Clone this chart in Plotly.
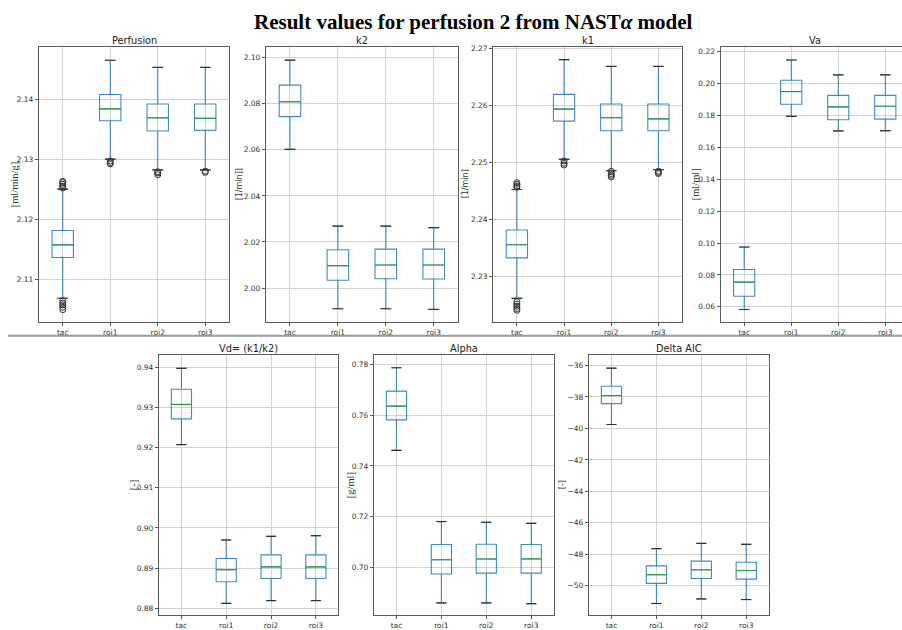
import plotly.graph_objects as go

# Category labels shared by every panel
categories = ["tac", "roi1", "roi2", "roi3"]
positions = [1, 2, 3, 4]

# Five-number summaries per category: [lower whisker, Q1, median, Q3, upper whisker]
perfusion = [
    [2.1068, 2.1136, 2.1157, 2.1181, 2.1250],
    [2.1300, 2.1364, 2.1384, 2.1408, 2.1465],
    [2.1282, 2.1347, 2.1369, 2.1392, 2.1453],
    [2.1282, 2.1348, 2.1368, 2.1392, 2.1453],
]
perfusion_outliers = [
    [2.1252, 2.1255, 2.1258, 2.1261, 2.1263, 2.1049, 2.1053, 2.1057, 2.1060, 2.1064],
    [2.1297, 2.1294, 2.1292],
    [2.1279, 2.1277, 2.1274],
    [2.1280, 2.1278],
]

k2 = [
    [2.0602, 2.0744, 2.0809, 2.0881, 2.0989],
    [1.9910, 2.0034, 2.0097, 2.0166, 2.0269],
    [1.9910, 2.0040, 2.0100, 2.0169, 2.0269],
    [1.9907, 2.0039, 2.0100, 2.0169, 2.0262],
]
k2_outliers = [[], [], [], []]

k1 = [
    [2.2262, 2.2333, 2.2356, 2.2382, 2.2453],
    [2.2506, 2.2573, 2.2594, 2.2620, 2.2681],
    [2.2486, 2.2556, 2.2579, 2.2603, 2.2669],
    [2.2488, 2.2556, 2.2577, 2.2603, 2.2669],
]
k1_outliers = [
    [2.2465, 2.2462, 2.2459, 2.2457, 2.2256, 2.2252, 2.2248, 2.2244, 2.2241],
    [2.2503, 2.2499, 2.2496],
    [2.2485, 2.2481, 2.2478, 2.2475],
    [2.2485, 2.2483, 2.2481],
]

va = [
    [0.0583, 0.0666, 0.0755, 0.0834, 0.0975],
    [0.1795, 0.1870, 0.1950, 0.2021, 0.2148],
    [0.1703, 0.1773, 0.1854, 0.1926, 0.2055],
    [0.1705, 0.1777, 0.1858, 0.1926, 0.2055],
]
va_outliers = [[], [], [], []]

vd = [
    [0.9208, 0.9272, 0.9308, 0.9346, 0.9398],
    [0.8812, 0.8866, 0.8896, 0.8924, 0.8970],
    [0.8819, 0.8874, 0.8903, 0.8933, 0.8979],
    [0.8819, 0.8874, 0.8903, 0.8933, 0.8981],
]
vd_outliers = [[], [], [], []]

alpha = [
    [0.7461, 0.7581, 0.7635, 0.7694, 0.7786],
    [0.6861, 0.6975, 0.7031, 0.7091, 0.7181],
    [0.6861, 0.6978, 0.7034, 0.7092, 0.7178],
    [0.6858, 0.6978, 0.7034, 0.7091, 0.7174],
]
alpha_outliers = [[], [], [], []]

delta_aic = [
    [-39.75, -38.42, -37.91, -37.32, -36.17],
    [-51.13, -49.85, -49.30, -48.74, -47.64],
    [-50.84, -49.54, -48.99, -48.44, -47.31],
    [-50.88, -49.58, -49.03, -48.51, -47.37],
]
delta_aic_outliers = [[], [], [], []]

W, H = 902, 630
SERIF = "Liberation Serif, Times New Roman, serif"
SANS = "DejaVu Sans, sans-serif"
BOX_BLUE = "rgba(31,119,180,0.85)"
MEDIAN_GREEN = "rgba(44,160,44,0.85)"
BOX_WIDTH = 0.45
TICK_FONT = dict(family=SANS, size=7.5, color="#333333")

# Panel layout: pixel frame (left, right, top, bottom), axis settings and labels
panels = [
    dict(title="Perfusion", ylabel="[ml/min/g]", lfont=SERIF, lx=14, stats=perfusion,
         outl=perfusion_outliers, frame=(39, 229, 44.5, 321.7), yr=[2.1029, 2.1487], dt=0.01, fmt=".2f"),
    dict(title="k2", ylabel="[1/min]]", lfont=SANS, lx=239, stats=k2,
         outl=k2_outliers, frame=(266, 457.7, 44.5, 321.7), yr=[1.9854, 2.1046], dt=0.02, fmt=".2f"),
    dict(title="k1", ylabel="[1/min]", lfont=SANS, lx=465, stats=k1,
         outl=k1_outliers, frame=(493.3, 682, 44.5, 321.7), yr=[2.2221, 2.2703], dt=0.01, fmt=".2f"),
    dict(title="Va", ylabel="[ml/ml]", lfont=SERIF, lx=695, stats=va,
         outl=va_outliers, frame=(720.7, 908.8, 44.5, 321.7), yr=[0.0507, 0.2229], dt=0.02, fmt=".2f"),
    dict(title="Vd= (k1/k2)", ylabel="[-]", lfont=SERIF, lx=133, stats=vd,
         outl=vd_outliers, frame=(159, 338.3, 355.7, 618), yr=[0.87827, 0.94305], dt=0.01, fmt=".2f"),
    dict(title="Alpha", ylabel="[g/ml]", lfont=SERIF, lx=350, stats=alpha,
         outl=alpha_outliers, frame=(374, 553.7, 355.7, 618), yr=[0.6813, 0.7835], dt=0.02, fmt=".2f"),
    dict(title="Delta AIC", ylabel="[-]", lfont=SANS, lx=562, stats=delta_aic,
         outl=delta_aic_outliers, frame=(589, 768.7, 355.7, 618), yr=[-51.87, -35.35], dt=2, fmt="d"),
]

fig = go.Figure()
layout = {}
annotations = []

for i, p in enumerate(panels, start=1):
    sfx = "" if i == 1 else str(i)
    xa, ya = "x" + sfx, "y" + sfx
    left, right, top, bottom = p["frame"]
    # keep the data-to-pixel scale, clipping the frame at the page edge if needed
    px_per_unit = (right - left) / 4.0
    vis_right = min(right, W)
    xmax = 0.5 + (vis_right - left) / px_per_unit
    xdom = [left / W, vis_right / W]
    ydom = [1 - bottom / H, 1 - top / H]

    stats = p["stats"]
    lo = [s[0] for s in stats]
    q1 = [s[1] for s in stats]
    med = [s[2] for s in stats]
    q3 = [s[3] for s in stats]
    hi = [s[4] for s in stats]

    fig.add_trace(go.Box(
        x=positions, q1=q1, median=med, q3=q3, lowerfence=lo, upperfence=hi,
        width=BOX_WIDTH, whiskerwidth=0.5, boxpoints=False,
        line=dict(color=BOX_BLUE, width=1.1), fillcolor="rgba(0,0,0,0)",
        xaxis=xa, yaxis=ya, showlegend=False, hoverinfo="skip",
    ))

    # green median bars
    mx, my = [], []
    for pos, m in zip(positions, med):
        mx += [pos - BOX_WIDTH / 2, pos + BOX_WIDTH / 2, None]
        my += [m, m, None]
    fig.add_trace(go.Scatter(x=mx, y=my, mode="lines",
                             line=dict(color=MEDIAN_GREEN, width=1.2),
                             xaxis=xa, yaxis=ya, showlegend=False, hoverinfo="skip"))

    # dark whisker caps
    cx, cy = [], []
    for pos, a, b in zip(positions, lo, hi):
        for v in (a, b):
            cx += [pos - BOX_WIDTH / 4, pos + BOX_WIDTH / 4, None]
            cy += [v, v, None]
    fig.add_trace(go.Scatter(x=cx, y=cy, mode="lines",
                             line=dict(color="#333333", width=1.2),
                             xaxis=xa, yaxis=ya, showlegend=False, hoverinfo="skip"))

    # flier points
    ox, oy = [], []
    for pos, vals in zip(positions, p["outl"]):
        ox += [pos] * len(vals)
        oy += vals
    if ox:
        fig.add_trace(go.Scatter(x=ox, y=oy, mode="markers",
                                 marker=dict(symbol="circle-open", size=6,
                                             color="#333333", line=dict(width=1)),
                                 xaxis=xa, yaxis=ya, showlegend=False, hoverinfo="skip"))

    clipped = right > W
    layout["xaxis" + sfx] = dict(
        domain=xdom, anchor=ya, range=[0.5, xmax],
        tickmode="array", tickvals=positions, ticktext=categories,
        showgrid=True, gridcolor="#d2d2d2", gridwidth=1, zeroline=False,
        showline=True, mirror=True, linecolor="#5a5a5a", linewidth=1.3,
        ticks="outside", ticklen=3, tickcolor="#555555",
        tickfont=TICK_FONT,
    )
    layout["yaxis" + sfx] = dict(
        domain=ydom, anchor=xa, range=p["yr"], dtick=p["dt"], tick0=0,
        tickformat=p["fmt"],
        showgrid=True, gridcolor="#d2d2d2", gridwidth=1, zeroline=False,
        showline=True, mirror=not clipped, linecolor="#5a5a5a", linewidth=1.3,
        ticks="outside", ticklen=3, tickcolor="#555555",
        tickfont=TICK_FONT,
    )

    # panel title
    annotations.append(dict(
        text=p["title"], xref="paper", yref="paper",
        x=(left + right) / 2 / W, y=1 - (top - 6.5) / H,
        xanchor="center", yanchor="middle", showarrow=False,
        font=dict(family=SANS, size=9.8, color="#222222"),
    ))
    # y-axis label
    annotations.append(dict(
        text=p["ylabel"], xref="paper", yref="paper",
        x=p["lx"] / W, y=1 - (top + bottom) / 2 / H, textangle=-90,
        xanchor="center", yanchor="middle", showarrow=False,
        font=dict(family=p["lfont"], size=10.5 if p["lfont"] == SERIF else 8, color="#333333"),
    ))

# figure title
annotations.append(dict(
    text="<b>Result values for perfusion 2 from NAST<i>α</i> model</b>",
    xref="paper", yref="paper", x=473 / W, y=1 - 19 / H,
    xanchor="center", yanchor="middle", showarrow=False,
    font=dict(family=SERIF, size=21, color="#000000"),
))

fig.update_layout(
    width=W, height=H,
    margin=dict(l=0, r=0, t=0, b=0),
    paper_bgcolor="white", plot_bgcolor="white",
    showlegend=False,
    annotations=annotations,
    shapes=[dict(type="line", xref="paper", yref="paper",
                 x0=8 / W, x1=1, y0=1 - 336 / H, y1=1 - 336 / H,
                 line=dict(color="#9a9a9a", width=2))],
    **layout,
)

fig.write_html("out.html")
